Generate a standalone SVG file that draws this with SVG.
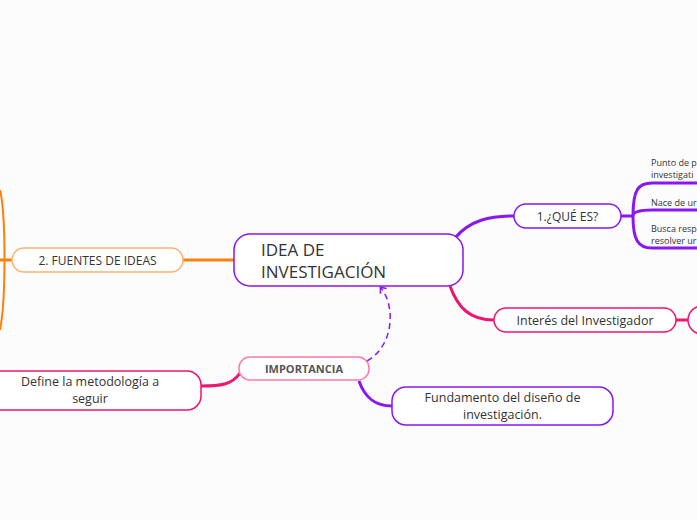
<svg xmlns="http://www.w3.org/2000/svg" width="697" height="520" viewBox="0 0 697 520">
<style>
text{font-family:"Open Sans","Liberation Sans",sans-serif;fill:#333;}
.p{fill:#fff;stroke:#8a16f0;stroke-width:1.5}
.r{fill:#fff;stroke:#f0156f;stroke-width:1.5}
.c{fill:none;stroke-width:3}
</style>
<defs><marker id="ah" markerWidth="10" markerHeight="10" refX="5" refY="5" orient="auto" markerUnits="userSpaceOnUse"><path d="M1,1 L6,5 L1,9" fill="none" stroke="#8a16f0" stroke-width="1.5"/></marker></defs>
<rect width="697" height="520" fill="#fcfcfd"/>
<g id="connectors">
<path class="c" stroke="#8a16f0" d="M455,238 C470,220 490,216 514,216"/>
<path class="c" stroke="#8a16f0" d="M621,216 L633,216 M633,216 C633,190 638,183 652,183 L697,183 M633,216 C633,212 640,210 652,210 L697,210 M633,216 C633,240 638,248 652,248 L697,248"/>
<path class="c" stroke="#f0156f" d="M450,286 C458,308 470,320 494,320"/>
<path class="c" stroke="#f0156f" d="M676,320 L690,320"/>
<path class="c" stroke="#ff7f0e" d="M183,260 L234,260 M0,260 L12,260"/>
<path fill="none" stroke="#ff7f0e" stroke-width="2" d="M0,190 C6,215 6,300 0,330"/>
<path class="c" stroke="#f0156f" d="M240,373 C232,385 220,386 201,386"/>
<path class="c" stroke="#8a16f0" d="M359,381 C365,398 375,406 392,406"/>
<path fill="none" stroke="#8a16f0" stroke-width="1.5" stroke-dasharray="6,4" marker-end="url(#ah)" d="M367,361 C395,345 395,305 381,288"/>
</g>
<g id="main"><rect class="p" x="234" y="234" width="229" height="52" rx="16"/>
<text x="261" y="256" font-size="17">IDEA DE</text><text x="261" y="278" font-size="17">INVESTIGACIÓN</text></g>
<g id="que"><rect class="p" x="514" y="204" width="107" height="24" rx="12"/><text x="567.5" y="221" font-size="12" text-anchor="middle">1.¿QUÉ ES?</text></g>
<g id="sub1"><text x="651" y="166" font-size="9">Punto de p</text><text x="651" y="178" font-size="9">investigati</text></g>
<g id="sub2"><text x="651" y="206" font-size="9">Nace de ur</text></g>
<g id="sub3"><text x="651" y="232" font-size="9">Busca resp</text><text x="651" y="244" font-size="9">resolver ur</text></g>
<g id="interes"><rect class="r" x="494" y="308" width="182" height="24" rx="12"/><text x="585" y="325" font-size="12.5" text-anchor="middle">Interés del Investigador</text></g>
<g id="interes-child"><rect class="r" x="688" y="306" width="40" height="28" rx="14"/></g>
<g id="fuentes"><rect x="12" y="248" width="171" height="24" rx="12" fill="#fff" stroke="#ffb070" stroke-width="1.5"/><text x="97.5" y="265" font-size="12" text-anchor="middle">2. FUENTES DE IDEAS</text></g>
<g id="importancia"><rect x="239" y="357" width="130" height="23" rx="11" fill="#fff" stroke="#ff7aa8" stroke-width="1.5"/><text x="304" y="373" font-size="11" font-weight="bold" text-anchor="middle" style="fill:#555">IMPORTANCIA</text></g>
<g id="define"><rect class="r" x="-20" y="371" width="221" height="39" rx="14"/><text x="90" y="386" font-size="12.5" text-anchor="middle">Define la metodología a</text><text x="90" y="403" font-size="12.5" text-anchor="middle">seguir</text></g>
<g id="fundamento"><rect class="p" x="392" y="387" width="221" height="38" rx="14"/><text x="502.5" y="402" font-size="12.5" text-anchor="middle">Fundamento del diseño de</text><text x="502.5" y="419" font-size="12.5" text-anchor="middle">investigación.</text></g>
</svg>
